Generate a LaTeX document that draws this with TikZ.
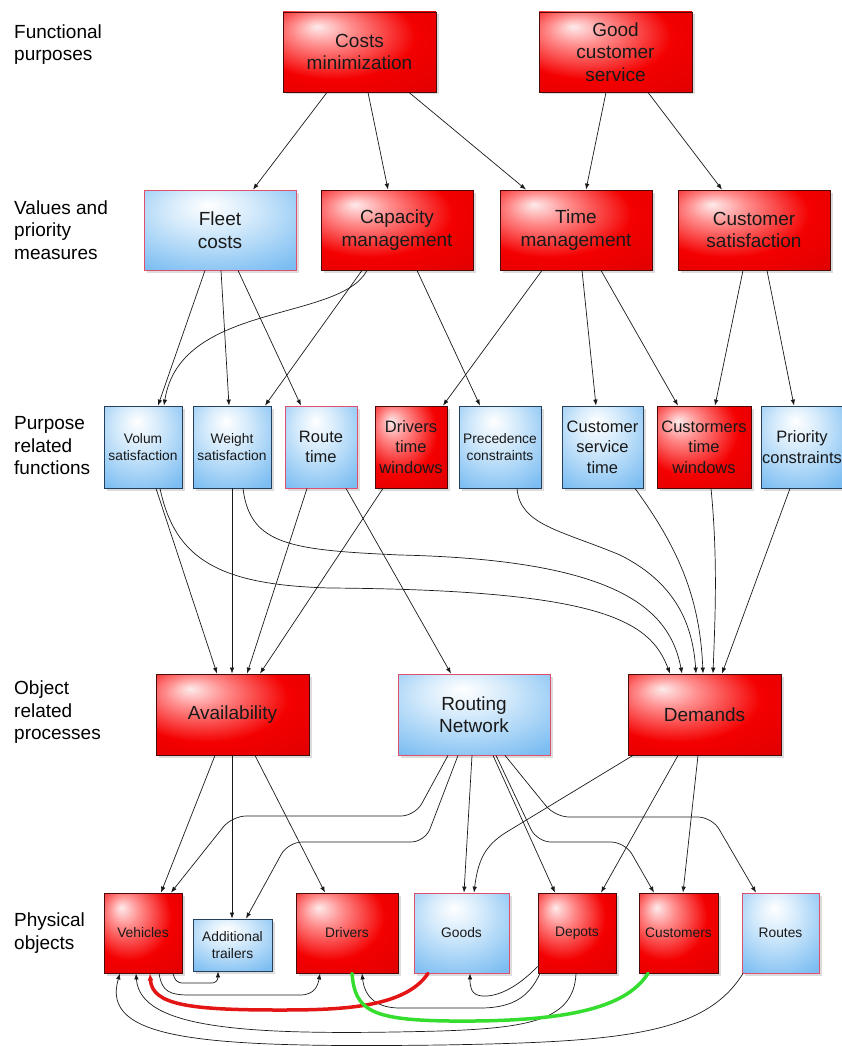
\documentclass[tikz,border=0pt]{standalone}
\usepackage{fontspec}
\setmainfont{Liberation Sans}
\usetikzlibrary{arrows.meta,shadows}
\definecolor{rd}{HTML}{F40000}
\definecolor{rddk}{HTML}{C00000}
\definecolor{rdlt}{HTML}{FF8A8A}
\definecolor{bl}{HTML}{7DBEF2}
\definecolor{bldk}{HTML}{5EA8EA}
\definecolor{bllt}{HTML}{D4EAFB}
\definecolor{pinkdraw}{HTML}{E0506E}
\definecolor{navydraw}{HTML}{24405C}
\definecolor{reddraw}{HTML}{4A0A0A}
\definecolor{linecol}{HTML}{1A1A1A}
\definecolor{redline}{HTML}{E31515}
\definecolor{greenline}{HTML}{35DD2F}
\pgfdeclareradialshading{redglow}{\pgfpoint{-14bp}{16bp}}{color(0bp)=(white!92!rd); color(10bp)=(rdlt); color(27bp)=(rd); color(71bp)=(rddk)}
\pgfdeclareradialshading{blueglow}{\pgfpoint{-4bp}{16bp}}{color(0bp)=(white); color(14bp)=(bllt); color(38bp)=(bl); color(71bp)=(bldk)}
\tikzset{
 box/.style={draw, line width=0.8pt, inner sep=1pt, align=center, text=black!90, drop shadow={opacity=0.28, shadow xshift=2.5pt, shadow yshift=-2.5pt}},
 redbox/.style={box, shade, shading=redglow, draw=reddraw},
 bluep/.style={box, shade, shading=blueglow, draw=pinkdraw},
 blued/.style={box, shade, shading=blueglow, draw=navydraw},
 wh/.style 2 args={minimum width=#1pt, minimum height=#2pt},
 big/.style={font=\fontsize{19}{22.5}\selectfont},
 mid/.style={font=\fontsize{16.5}{20.5}\selectfont},
 sml/.style={font=\fontsize{13.8}{17.5}\selectfont},
 lbl/.style={anchor=west, align=left, inner sep=0pt, font=\fontsize{19}{22.5}\selectfont},
 conn/.style={draw=linecol, line width=0.7pt, -{Latex[length=6pt,width=4.5pt]}},
 marker/.style={line width=3.5pt, line cap=round},
}
\begin{document}
\begin{tikzpicture}[x=1pt,y=-1pt]
\useasboundingbox (0,0) rectangle (841,1046);
% left labels
\node[lbl] (l1) at (14,44.5) {Functional\\purposes};
\node[lbl] (l2) at (14,230) {Values and\\priority\\measures};
\node[lbl] (l3) at (14,446) {Purpose\\related\\functions};
\node[lbl] (l4) at (14,712.5) {Object\\related\\processes};
\node[lbl] (l5) at (14,933) {Physical\\objects};
% row 1
\node[redbox, wh={153}{80}, big] (costs) at (359.5,52) {Costs\\minimization};
\node[redbox, wh={153}{80}, big] (good) at (615.5,52) {Good\\customer\\service};
% row 2
\node[bluep, wh={152}{80}, big] (fleet) at (220,230) {Fleet\\costs};
\node[redbox, wh={152}{80}, big] (capacity) at (397,230) {Capacity\\management};
\node[redbox, wh={152}{80}, big] (time) at (576,230) {Time\\management};
\node[redbox, wh={152}{80}, big] (custsat) at (754,230) {Customer\\satisfaction};
% row 3
\node[blued, wh={78}{82}, sml] (volum) at (143,447) {Volum\\satisfaction};
\node[blued, wh={78}{82}, sml] (weight) at (232,447) {Weight\\satisfaction};
\node[bluep, wh={72}{82}, mid] (route) at (321,447) {Route\\time};
\node[redbox, wh={72}{82}, mid] (drv) at (411,447) {Drivers\\time\\windows};
\node[blued, wh={82}{82}, sml] (prec) at (500,447) {Precedence\\constraints};
\node[blued, wh={81}{82}, mid] (cst) at (602.5,447) {Customer\\service\\time};
\node[redbox, wh={94}{82}, mid] (ctw) at (704,447) {Custormers\\time\\windows};
\node[blued, wh={82}{82}, mid] (prio) at (802,447) {Priority\\constraints};
% row 4
\node[redbox, wh={153}{81}, big] (avail) at (232.5,714.5) {Availability};
\node[bluep, wh={152}{81}, big] (routing) at (474,714.5) {Routing\\Network};
\node[redbox, wh={153}{81}, big] (demands) at (704.5,714.5) {Demands};
% row 5
\node[redbox, wh={78}{80}, sml] (veh) at (143,933) {Vehicles};
\node[blued, wh={79}{52}, sml] (trl) at (232.5,945) {Additional\\trailers};
\node[redbox, wh={102}{80}, sml] (drvb) at (347,933) {Drivers};
\node[bluep, wh={95}{80}, sml] (goods) at (461.5,933) {Goods};
\node[redbox, wh={78}{80}, sml] (depots) at (577,933) {Depots};
\node[redbox, wh={79}{80}, sml] (cust) at (678.5,933) {Customers};
\node[bluep, wh={77}{80}, sml] (routes) at (780.5,933) {Routes};

% row1 -> row2
\draw[conn] ([xshift=-32.5pt]costs.south) -- ([xshift=33pt]fleet.north);
\draw[conn] ([xshift=8.5pt]costs.south) -- ([xshift=-9pt]capacity.north);
\draw[conn] ([xshift=49.5pt]costs.south) -- ([xshift=-50pt]time.north);
\draw[conn] ([xshift=-9.5pt]good.south) -- ([xshift=10pt]time.north);
\draw[conn] ([xshift=32.5pt]good.south) -- ([xshift=-32pt]custsat.north);
% row2 -> row3
\draw[conn] ([xshift=-15pt]fleet.south) -- ([xshift=15pt]volum.north);
\draw[conn] ([xshift=1pt]fleet.south) -- ([xshift=-3pt]weight.north);
\draw[conn] ([xshift=18pt]fleet.south) -- ([xshift=-20pt]route.north);
\draw[conn] ([xshift=-30pt]capacity.south) .. controls (340,322) and (180,302) .. ([xshift=21pt]volum.north);
\draw[conn] ([xshift=-35pt]capacity.south) -- ([xshift=33pt]weight.north);
\draw[conn] ([xshift=20pt]capacity.south) -- ([xshift=-20pt]prec.north);
\draw[conn] ([xshift=-34pt]time.south) -- ([xshift=32pt]drv.north);
\draw[conn] ([xshift=6pt]time.south) -- ([xshift=-6.5pt]cst.north);
\draw[conn] ([xshift=25pt]time.south) -- ([xshift=-26pt]ctw.north);
\draw[conn] ([xshift=-11pt]custsat.south) -- ([xshift=11pt]ctw.north);
\draw[conn] ([xshift=13pt]custsat.south) -- ([xshift=-8pt]prio.north);
% row3 -> row4
\draw[conn] ([xshift=13pt]volum.south) -- ([xshift=-15.5pt]avail.north);
\draw[conn] ([xshift=17pt]volum.south) .. controls (175,560) and (220,585) .. (330,588) .. controls (600,590) and (650,620) .. ([xshift=-34.5pt]demands.north);
\draw[conn] (weight.south) -- ([xshift=-0.5pt]avail.north);
\draw[conn] ([xshift=11pt]weight.south) .. controls (250,545) and (290,550) .. (400,555) .. controls (620,560) and (670,610) .. ([xshift=-22.5pt]demands.north);
\draw[conn] ([xshift=-14pt]route.south) -- ([xshift=14.5pt]avail.north);
\draw[conn] ([xshift=25pt]route.south) -- ([xshift=-23pt]routing.north);
\draw[conn] ([xshift=-28pt]drv.south) -- ([xshift=27.5pt]avail.north);
\draw[conn] ([xshift=17pt]prec.south) .. controls (520,525) and (560,530) .. (620,555) .. controls (680,585) and (693,630) .. ([xshift=-8.5pt]demands.north);
\draw[conn] ([xshift=32.5pt]cst.south) .. controls (680,550) and (700,600) .. ([xshift=-1.5pt]demands.north);
\draw[conn] ([xshift=7pt]ctw.south) .. controls (718,560) and (715,620) .. ([xshift=8.5pt]demands.north);
\draw[conn] ([xshift=-12pt]prio.south) -- ([xshift=17.5pt]demands.north);
% row4 -> row5
\draw[conn] ([xshift=-17.5pt]avail.south) -- ([xshift=18pt]veh.north);
\draw[conn] ([xshift=-0.5pt]avail.south) -- ([xshift=-0.5pt]trl.north);
\draw[conn] ([xshift=22.5pt]avail.south) -- ([xshift=-22pt]drvb.north);
\draw[conn, rounded corners=14pt] ([xshift=-26pt]routing.south) -- (415,816) -- (232,816) -- ([xshift=28pt]veh.north);
\draw[conn, rounded corners=14pt] ([xshift=-16pt]routing.south) -- (425,842) -- (288,842) -- ([xshift=13.5pt]trl.north);
\draw[conn] ([xshift=-2pt]routing.south) -- ([xshift=2.5pt]goods.north);
\draw[conn] ([xshift=19pt]routing.south) -- ([xshift=-22pt]depots.north);
\draw[conn, rounded corners=14pt] ([xshift=22pt]routing.south) -- (537,842) -- (625,842) -- ([xshift=-24.5pt]cust.north);
\draw[conn, rounded corners=14pt] ([xshift=31pt]routing.south) -- (555,817) -- (712,817) -- ([xshift=-24.5pt]routes.north);
\draw[conn] ([xshift=-71.5pt]demands.south) -- (505,833) .. controls (485,846) and (478,860) .. ([xshift=12.5pt]goods.north);
\draw[conn] ([xshift=-26.5pt]demands.south) -- ([xshift=24pt]depots.north);
\draw[conn] ([xshift=-6.5pt]demands.south) -- ([xshift=4.5pt]cust.north);
% bottom connectors
\draw[conn, rounded corners=6pt] ([xshift=30pt]veh.south) -- (176,983) -- (218,983) -- ([xshift=-14.5pt]trl.south);
\draw[conn] ([xshift=16pt]veh.south) .. controls (162,992) and (170,995) .. (190,995) -- (300,995) .. controls (315,995) and (318,985) .. ([xshift=-27pt]drvb.south);
\draw[conn] ([xshift=-37pt]depots.south) .. controls (530,995) and (515,1008) .. (480,1008) -- (400,1008) .. controls (380,1008) and (365,1000) .. ([xshift=15pt]drvb.south);
\draw[conn] ([yshift=7pt]depots.south west) .. controls (515,990) and (495,997) .. (482,996) .. controls (470,995) and (470,985) .. ([xshift=8.5pt]goods.south);
\draw[conn] ([xshift=-1pt]depots.south) .. controls (574,1020) and (530,1028) .. (440,1031) .. controls (250,1036) and (140,1030) .. ([xshift=-7pt]veh.south);
\draw[conn] ([xshift=-37.5pt]routes.south) .. controls (705,1035) and (620,1042) .. (440,1045) .. controls (200,1048) and (100,1040) .. ([xshift=-23pt]veh.south);
% highlighted connectors
\draw[marker, draw=redline, -{Latex[length=7pt,width=6pt]}] ([xshift=-33.5pt]goods.south) .. controls (405,1008) and (340,1010) .. (280,1010) .. controls (190,1010) and (152,1005) .. ([xshift=7pt]veh.south);
\draw[marker, draw=greenline] ([xshift=5pt]drvb.south) .. controls (355,1010) and (370,1020) .. (450,1021) .. controls (560,1022) and (625,1010) .. ([xshift=-30.5pt]cust.south);
\end{tikzpicture}
\end{document}
